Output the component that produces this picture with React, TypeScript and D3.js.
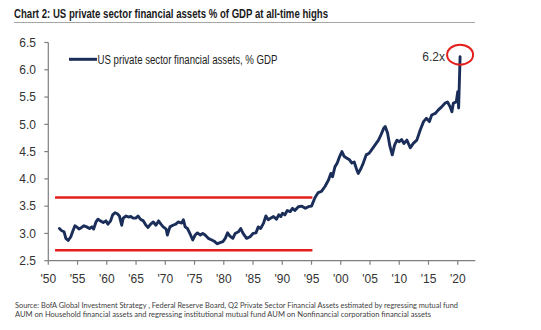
import React from "react";
import * as d3 from "d3";

const years: number[] = [
  1951.9, 1952.3, 1952.7, 1953.0, 1953.4, 1953.85, 1954.15, 1954.55, 1954.95, 1955.25,
  1955.7, 1956.1, 1956.55, 1957.05, 1957.45, 1957.75, 1958.15, 1958.5, 1958.9, 1959.4,
  1959.85, 1960.2, 1960.65, 1961.0, 1961.4, 1961.8, 1962.15, 1962.55, 1962.8, 1963.3,
  1963.7, 1964.1, 1964.5, 1964.95, 1965.35, 1965.75, 1966.25, 1966.7, 1967.05, 1967.5,
  1967.95, 1968.4, 1968.85, 1969.25, 1969.65, 1970.15, 1970.35, 1970.8, 1971.3, 1971.8,
  1972.2, 1972.8, 1973.1, 1973.4, 1973.8, 1974.2, 1974.7, 1975.1, 1975.5, 1976.0,
  1976.4, 1976.8, 1977.35, 1977.95, 1978.45, 1978.85, 1979.35, 1979.85, 1980.25, 1980.65,
  1981.05, 1981.55, 1981.95, 1982.5, 1982.9, 1983.3, 1983.9, 1984.5, 1985.0, 1985.5,
  1985.9, 1986.3, 1986.8, 1987.2, 1987.6, 1988.0, 1988.5, 1989.0, 1989.4, 1989.75,
  1990.05, 1990.45, 1990.85, 1991.35, 1991.75, 1992.15, 1992.75, 1993.35, 1993.95, 1994.45,
  1995.0, 1995.6, 1996.15, 1996.7, 1997.3, 1997.9, 1998.3, 1998.6, 1999.0, 1999.4,
  1999.8, 2000.2, 2000.6, 2001.05, 2001.5, 2001.9, 2002.3, 2002.75, 2003.0, 2003.45,
  2003.85, 2004.35, 2004.85, 2005.45, 2006.05, 2006.45, 2006.85, 2007.35, 2007.6, 2008.0,
  2008.4, 2008.8, 2009.2, 2009.6, 2010.0, 2010.4, 2010.8, 2011.3, 2011.9, 2012.4,
  2013.0, 2013.6, 2014.15, 2014.65, 2015.15, 2015.55, 2016.15, 2016.65, 2017.25, 2017.85,
  2018.25, 2018.7, 2019.0, 2019.25, 2019.75, 2020.0, 2020.15, 2020.4,
];

const assetsPctGdp: number[] = [
  3.09, 3.05, 3.03, 2.91, 2.87, 2.94, 3.03, 3.14, 3.11, 3.08,
  3.11, 3.14, 3.12, 3.09, 3.12, 3.08, 3.21, 3.26, 3.23, 3.2,
  3.23, 3.17, 3.23, 3.34, 3.38, 3.36, 3.32, 3.15, 3.28, 3.32,
  3.3, 3.31, 3.28, 3.28, 3.32, 3.26, 3.23, 3.15, 3.11, 3.17,
  3.21, 3.15, 3.23, 3.17, 3.12, 3.08, 2.97, 3.12, 3.15, 3.17,
  3.21, 3.19, 3.25, 3.12, 3.09, 3.0, 2.88, 2.97, 3.01, 2.97,
  3.0, 2.97, 2.91, 2.88, 2.85, 2.81, 2.83, 2.85, 2.91, 3.01,
  2.95, 2.91, 3.0, 3.03, 3.09, 3.0, 2.91, 2.94, 3.0, 3.01,
  3.12, 3.09, 3.19, 3.32, 3.25, 3.28, 3.31, 3.26, 3.34, 3.31,
  3.37, 3.34, 3.42, 3.4, 3.46, 3.42, 3.49, 3.5, 3.46, 3.49,
  3.5, 3.66, 3.75, 3.77, 3.86, 3.98, 4.1, 4.04, 4.22, 4.29,
  4.41, 4.5, 4.41, 4.38, 4.35, 4.29, 4.31, 4.16, 4.1, 4.19,
  4.29, 4.44, 4.47, 4.56, 4.65, 4.71, 4.8, 4.93, 4.96, 4.84,
  4.6, 4.44, 4.62, 4.71, 4.68, 4.72, 4.65, 4.71, 4.57, 4.65,
  4.71, 4.9, 5.05, 5.11, 5.05, 5.17, 5.2, 5.26, 5.32, 5.39,
  5.41, 5.32, 5.23, 5.39, 5.41, 5.6, 5.3, 6.24,
];

const yTicks: number[] = [2.5, 3.0, 3.5, 4.0, 4.5, 5.0, 5.5, 6.0, 6.5];
const xTicks: number[] = [1950, 1955, 1960, 1965, 1970, 1975, 1980, 1985, 1990, 1995, 2000, 2005, 2010, 2015, 2020];
const xTickLabels: string[] = ["'50", "'55", "'60", "'65", "'70", "'75", "'80", "'85", "'90", "'95", "'00", "'05", "'10", "'15", "'20"];

const bandYears: number[] = [1951.15, 1995.15];
const bandLevels: number[] = [3.66, 2.69];
const peakLabel = "6.2x";

const title = "Chart 2: US private sector financial assets % of GDP at all-time highs";
const legendLabel = "US private sector financial assets, % GDP";
const sourceLines: string[] = [
  "Source:  BofA Global Investment Strategy , Federal Reserve Board, Q2 Private Sector Financial Assets estimated by regressing mutual fund",
  "AUM on Household financial assets and regressing institutional mutual fund AUM on Nonfinancial corporation financial assets",
];

const NAVY = "#1b2e5a";
const RED = "#e3201c";
const AXIS = "#7f7f7f";
const NARROW = "'Liberation Sans Narrow', 'Arial Narrow', 'Liberation Sans', Arial, sans-serif";
const HUMANIST = "Lato, 'Open Sans', 'Liberation Sans', sans-serif";

export default function App() {
  const W = 541;
  const H = 330;
  const x = d3.scaleLinear().domain([1950, 2023]).range([48.3, 475.3]);
  const y = d3.scaleLinear().domain([2.5, 6.5]).range([260.7, 42.5]);

  const pts: [number, number][] = years.map((yr, i) => [yr, assetsPctGdp[i]]);
  const line = d3
    .line<[number, number]>()
    .x((d) => x(d[0]))
    .y((d) => y(d[1]));

  const lastIdx = pts.length - 1;
  const peakX = x(years[lastIdx]);
  const peakY = y(assetsPctGdp[lastIdx]);

  return (
    <svg width={W} height={H} style={{ display: "block", position: "absolute", left: 0, top: 0, background: "#fff" }}>
      <rect x={0} y={0} width={W} height={H} fill="#fff" />
      {/* title */}
      <text
        x={14}
        y={18}
        fontFamily={NARROW}
        fontWeight="bold"
        fontSize={12.5}
        fill="#1a1a1a"
        textLength={314}
        lengthAdjust="spacingAndGlyphs"
      >
        {title}
      </text>
      <line x1={14} x2={475} y1={22.5} y2={22.5} stroke="#a6a6a6" strokeWidth={1} />

      {/* y axis */}
      <line x1={x(1950)} x2={x(1950)} y1={y(6.5)} y2={y(2.5)} stroke={AXIS} strokeWidth={1.2} />
      {yTicks.map((t) => (
        <g key={"y" + t}>
          <line x1={x(1950) - 4} x2={x(1950)} y1={y(t)} y2={y(t)} stroke={AXIS} strokeWidth={1.2} />
          <text
            x={36}
            y={y(t)}
            dy="0.36em"
            textAnchor="end"
            fontFamily={NARROW}
            fontSize={12}
            fill="#333"
          >
            {t.toFixed(1)}
          </text>
        </g>
      ))}

      {/* x axis */}
      <line x1={x(1950)} x2={x(2023)} y1={y(2.5)} y2={y(2.5)} stroke={AXIS} strokeWidth={1.2} />
      {xTicks.map((t, i) => (
        <g key={"x" + t}>
          <line x1={x(t)} x2={x(t)} y1={y(2.5)} y2={y(2.5) + 4} stroke={AXIS} strokeWidth={1.2} />
          <text
            x={x(t)}
            y={283}
            textAnchor="middle"
            fontFamily={NARROW}
            fontSize={12}
            fill="#333"
          >
            {xTickLabels[i]}
          </text>
        </g>
      ))}

      {/* red band lines */}
      {bandLevels.map((lv) => (
        <line
          key={"b" + lv}
          x1={x(bandYears[0])}
          x2={x(bandYears[1])}
          y1={y(lv)}
          y2={y(lv)}
          stroke={RED}
          strokeWidth={2.5}
        />
      ))}

      {/* series */}
      <path d={line(pts) || ""} fill="none" stroke={NAVY} strokeWidth={2.9} strokeLinejoin="round" strokeLinecap="round" />

      {/* legend */}
      <line x1={69} x2={97} y1={59.3} y2={59.3} stroke={NAVY} strokeWidth={3} />
      <text
        x={97.5}
        y={63.5}
        fontFamily={NARROW}
        fontSize={12.5}
        fill="#222"
        textLength={180}
        lengthAdjust="spacingAndGlyphs"
      >
        {legendLabel}
      </text>

      {/* peak annotation */}
      <ellipse cx={peakX} cy={peakY - 2} rx={13} ry={10} fill="none" stroke={RED} strokeWidth={2} />
      <text x={445} y={61} textAnchor="end" fontFamily={NARROW} fontSize={12} fill="#333">
        {peakLabel}
      </text>

      {/* source */}
      {sourceLines.map((s, i) => (
        <text
          key={"s" + i}
          x={15}
          y={308 + i * 9}
          fontFamily={HUMANIST}
          fontSize={8}
          fill="#404040"
          textLength={i === 0 ? 443 : 416}
          lengthAdjust="spacingAndGlyphs"
        >
          {s}
        </text>
      ))}
    </svg>
  );
}
